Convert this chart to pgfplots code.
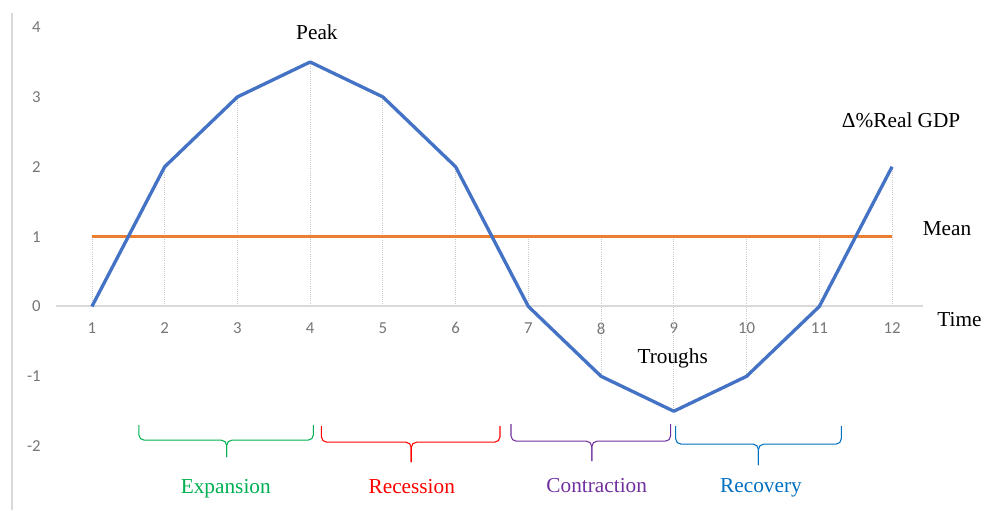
\documentclass[border=0pt]{standalone}
\usepackage{fontspec}
\setmainfont{Liberation Serif}
\newfontfamily\carlito{Carlito}
\usepackage{pgfplots}
\pgfplotsset{compat=1.18}
\definecolor{gdpblue}{HTML}{4472C4}
\definecolor{meanorange}{HTML}{ED7D31}
\definecolor{expgreen}{HTML}{00B050}
\definecolor{recred}{HTML}{FF0000}
\definecolor{conpurple}{HTML}{7030A0}
\definecolor{recblue}{HTML}{0070C0}
\definecolor{axgray}{HTML}{D9D9D9}
\definecolor{tickgray}{HTML}{767676}
\definecolor{dropgray}{HTML}{C8C8C8}
\begin{document}
\begin{tikzpicture}
\begin{axis}[
  x=54.675pt, y=52.5pt,
  xmin=-0.262, xmax=13.262, ymin=-2.914, ymax=4.386,
  axis line style={draw=none},
  major tick length=0pt,
  xtick={1,...,12}, ytick={-2,...,4},
  /pgf/number format/assume math mode=true,
  ticklabel style={font=\carlito\fontsize{12.6}{14}\selectfont, text=tickgray},
  xticklabel style={anchor=center, yshift=136.5pt},
  yticklabel style={anchor=east, xshift=34pt},
  clip=false,
]
% left vertical line
\draw[axgray, line width=1.1pt] (axis cs:-0.0974,4.2) -- (axis cs:-0.0974,-2.914);
% drop lines
\addplot[dropgray, densely dotted, line width=0.6pt, unbounded coords=jump] coordinates {
 (1,1) (1,0) (1,nan)
 (2,2) (2,0) (2,nan)
 (3,3) (3,0) (3,nan)
 (4,3.5) (4,0) (4,nan)
 (5,3) (5,0) (5,nan)
 (6,2) (6,0) (6,nan)
 (7,1) (7,0) (7,nan)
 (8,1) (8,-1) (8,nan)
 (9,1) (9,-1.5) (9,nan)
 (10,1) (10,-1) (10,nan)
 (11,1) (11,0) (11,nan)
 (12,2) (12,0)
};
% x axis line
\draw[axgray, line width=1.5pt] (axis cs:0.5,0) -- (axis cs:12.42,0);
% mean
\addplot[meanorange, line width=2.8pt] coordinates {(1,1) (2,1) (3,1) (4,1) (5,1) (6,1) (7,1) (8,1) (9,1) (10,1) (11,1) (12,1)};
% real GDP
\addplot[gdpblue, line width=2.5pt, line join=round] coordinates {(1,0) (2,2) (3,3) (4,3.5) (5,3) (6,2) (7,0) (8,-1) (9,-1.5) (10,-1) (11,0) (12,2)};
% text labels
\begin{scope}[every node/.style={font=\fontsize{16}{19}\selectfont, anchor=base}]
\node at (axis cs:4.093,3.829) {Peak};
\node at (axis cs:12.125,2.557) {Δ\%Real GDP};
\node at (axis cs:12.756,1.014) {Mean};
\node at (axis cs:12.927,-0.286) {Time};
\node at (axis cs:8.984,-0.814) {Troughs};
\node[text=expgreen] at (axis cs:2.84,-2.671) {Expansion};
\node[text=recred] at (axis cs:5.397,-2.671) {Recession};
\node[text=conpurple] at (axis cs:7.94,-2.657) {Contraction};
\node[text=recblue] at (axis cs:10.198,-2.657) {Recovery};
\end{scope}
% braces
\begin{scope}[line width=0.8pt, rounded corners=4pt]
\draw[expgreen] (axis cs:1.645,-1.7) -- (axis cs:1.645,-1.914) -- (axis cs:2.852,-1.914) -- (axis cs:2.852,-2.157);
\draw[expgreen] (axis cs:4.045,-1.7) -- (axis cs:4.045,-1.914) -- (axis cs:2.852,-1.914) -- (axis cs:2.852,-2.157);
\draw[recred] (axis cs:4.155,-1.714) -- (axis cs:4.155,-1.943) -- (axis cs:5.39,-1.943) -- (axis cs:5.39,-2.229);
\draw[recred] (axis cs:6.61,-1.714) -- (axis cs:6.61,-1.943) -- (axis cs:5.39,-1.943) -- (axis cs:5.39,-2.229);
\draw[conpurple] (axis cs:6.761,-1.686) -- (axis cs:6.761,-1.929) -- (axis cs:7.872,-1.929) -- (axis cs:7.872,-2.214);
\draw[conpurple] (axis cs:8.956,-1.686) -- (axis cs:8.956,-1.929) -- (axis cs:7.872,-1.929) -- (axis cs:7.872,-2.214);
\draw[recblue] (axis cs:9.025,-1.714) -- (axis cs:9.025,-1.971) -- (axis cs:10.163,-1.971) -- (axis cs:10.163,-2.271);
\draw[recblue] (axis cs:11.302,-1.714) -- (axis cs:11.302,-1.971) -- (axis cs:10.163,-1.971) -- (axis cs:10.163,-2.271);
\end{scope}
\path (rel axis cs:0,0) rectangle (rel axis cs:1,1);
\end{axis}
\end{tikzpicture}
\end{document}
